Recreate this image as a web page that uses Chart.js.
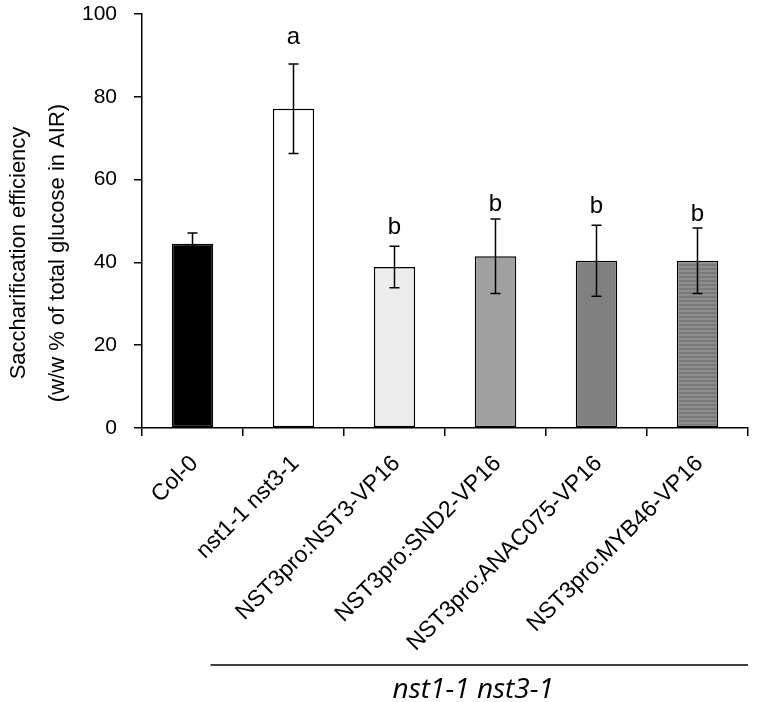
<!DOCTYPE html>
<html>
<head>
<meta charset="utf-8">
<script src="https://cdn.jsdelivr.net/npm/chart.js@4"></script>
<style>
    html, body { margin: 0; padding: 0; background: #fff; }
    #wrap { width: 760px; height: 702px; }
</style>
</head>
<body>
<div id="wrap"><canvas id="chart" width="760" height="702"></canvas></div>
<script>
// values
const categories = ["Col-0", "nst1-1 nst3-1", "NST3pro:NST3-VP16", "NST3pro:SND2-VP16", "NST3pro:ANAC075-VP16", "NST3pro:MYB46-VP16"];
const means = [44.5, 77.1, 38.9, 41.5, 40.4, 40.4];
const errors = [2.6, 10.8, 5.0, 9.0, 8.6, 7.9];
const letters = ["", "a", "b", "b", "b", "b"];
const letterBase = [0, 92.8, 46.8, 52.3, 52.0, 50.0];
const yTicks = [0, 20, 40, 60, 80, 100];
const groupLabel = "nst1-1 nst3-1";
const yTitle = ["Saccharification efficiency", "(w/w % of total glucose in AIR)"];

function stripes() {
    let c = document.createElement("canvas");
    c.width = 4; c.height = 4;
    let g = c.getContext("2d");
    g.fillStyle = "#8c8c8c";
    g.fillRect(0, 0, 4, 4);
    g.fillStyle = "#7a7a7a";
    g.fillRect(0, 0, 4, 2);
    return g.createPattern(c, "repeat");
}

const fills = ["#000000", "#ffffff", "#ececec", "#a0a0a0", "#808080", stripes()];
const font = '"Liberation Sans", Arial, sans-serif';

const overlay = {
    id: "overlay",
    afterDatasetsDraw(chart) {
        let ctx = chart.ctx;
        let x = chart.scales.x, y = chart.scales.y;
        ctx.save();
        ctx.strokeStyle = "#000";
        ctx.lineWidth = 1.5;
        means.forEach((m, i) => {
            let cx = x.getPixelForValue(i);
            let top = y.getPixelForValue(m + errors[i]);
            let bot = y.getPixelForValue(m - errors[i]);
            ctx.beginPath();
            ctx.moveTo(cx, top); ctx.lineTo(cx, bot);
            ctx.moveTo(cx - 5, top); ctx.lineTo(cx + 5, top);
            ctx.moveTo(cx - 5, bot); ctx.lineTo(cx + 5, bot);
            ctx.stroke();
        });

        ctx.fillStyle = "#000";
        ctx.font = "24px " + font;
        ctx.textAlign = "center";
        ctx.textBaseline = "alphabetic";
        letters.forEach((l, i) => {
            if (l) ctx.fillText(l, x.getPixelForValue(i), y.getPixelForValue(letterBase[i]));
        });

        // rotated category labels
        ctx.font = "23px " + font;
        ctx.textAlign = "right";
        ctx.textBaseline = "middle";
        categories.forEach((c, i) => {
            ctx.save();
            ctx.translate(x.getPixelForValue(i) + 2, y.bottom + 32);
            ctx.rotate(-Math.PI / 4);
            ctx.fillText(c, 0, 0);
            ctx.restore();
        });

        // y title
        ctx.font = "22px " + font;
        ctx.textAlign = "center";
        ctx.textBaseline = "alphabetic";
        yTitle.forEach((t, k) => {
            ctx.save();
            ctx.translate(25 + k * 39, 253);
            ctx.rotate(-Math.PI / 2);
            ctx.fillText(t, 0, 0);
            ctx.restore();
        });

        // group bracket
        let x0 = x.getPixelForValue(1) - 83;
        let x1 = x.right;
        ctx.beginPath();
        ctx.moveTo(x0, 665); ctx.lineTo(x1, 665);
        ctx.stroke();
        ctx.font = 'italic 28px "Open Sans", sans-serif';
        ctx.textBaseline = "middle";
        ctx.fillText(groupLabel, (x0 + x1) / 2 - 6, 690);
        ctx.restore();
    }
};

new Chart(document.getElementById("chart"), {
    type: "bar",
    data: {
        labels: categories,
        datasets: [{
            data: means,
            backgroundColor: fills,
            borderColor: "#000",
            borderWidth: 1.5,
            borderSkipped: false,
            barPercentage: 0.41,
            categoryPercentage: 1
        }]
    },
    options: {
        responsive: false,
        animation: false,
        layout: { padding: { top: 14, right: 12 } },
        plugins: { legend: { display: false }, tooltip: { enabled: false } },
        scales: {
            x: {
                afterFit(s) { s.height = 702 - 428; s.paddingLeft = 0; s.paddingRight = 0; },
                ticks: { display: false },
                grid: { offset: true, drawOnChartArea: false, tickLength: 8, color: "#000", lineWidth: 1.5 },
                border: { color: "#000", width: 1.5 }
            },
            y: {
                min: 0, max: 100,
                afterFit(s) { s.width = 142; s.paddingTop = 0; s.paddingBottom = 0; },
                afterBuildTicks(s) { s.ticks = yTicks.map(v => ({ value: v })); },
                ticks: { color: "#000", padding: 17, font: { family: font, size: 21 } },
                grid: { drawOnChartArea: false, tickLength: 8, color: "#000", lineWidth: 1.5 },
                border: { color: "#000", width: 1.5 }
            }
        }
    },
    plugins: [overlay]
});
</script>
</body>
</html>
